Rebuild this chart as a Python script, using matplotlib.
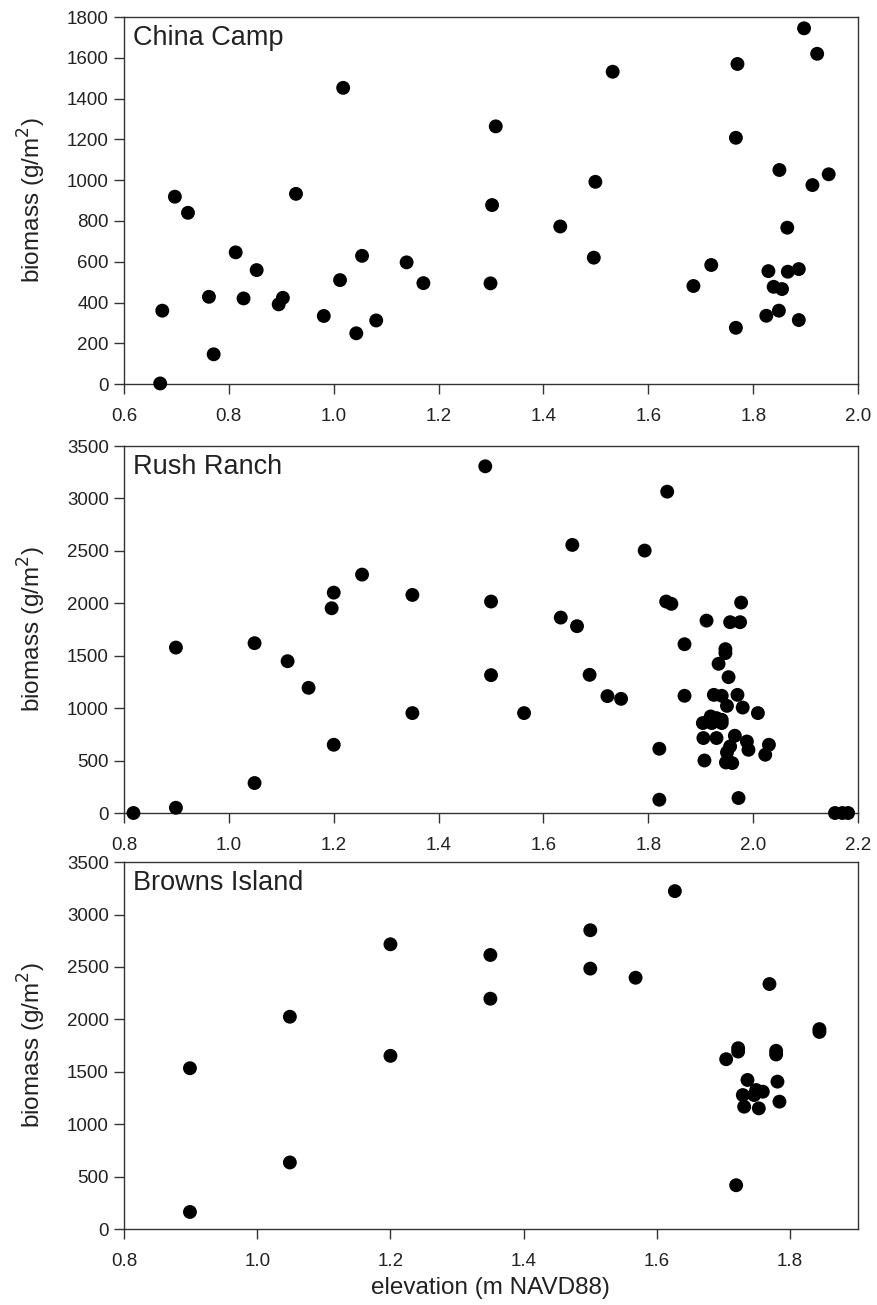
import numpy as np
import matplotlib
matplotlib.use("Agg")
import matplotlib.pyplot as plt

plt.rcParams['font.family'] = ['Liberation Sans', 'DejaVu Sans']

# ---- China Camp ----
cc_elev = [0.669, 0.673, 0.697, 0.722, 0.762, 0.771, 0.813, 0.828, 0.853, 0.895,
           0.903, 0.928, 0.981, 1.012, 1.018, 1.043, 1.054, 1.081, 1.139, 1.171,
           1.299, 1.302, 1.309, 1.432, 1.496, 1.499, 1.532, 1.686, 1.720, 1.767,
           1.767, 1.770, 1.825, 1.829, 1.839, 1.849, 1.850, 1.855, 1.866, 1.865,
           1.887, 1.887, 1.897, 1.913, 1.922, 1.944]
cc_biom = [3, 360, 919, 840, 428, 146, 646, 420, 559, 391,
           423, 933, 334, 510, 1453, 249, 629, 312, 597, 495,
           494, 878, 1264, 773, 620, 992, 1532, 481, 584, 276,
           1208, 1570, 335, 554, 477, 360, 1050, 466, 551, 767,
           564, 314, 1745, 976, 1620, 1029]

# ---- Rush Ranch ----
rr_elev = [0.818, 0.899, 0.899, 1.049, 1.049, 1.112, 1.152, 1.200, 1.196, 1.200,
           1.254, 1.350, 1.350, 1.489, 1.500, 1.500, 1.563, 1.633, 1.655, 1.664,
           1.688, 1.722, 1.748, 1.793, 1.821, 1.821, 1.836, 1.834, 1.844, 1.869,
           1.869, 1.977, 1.911, 1.956, 1.975, 1.947, 1.947, 1.934, 1.953, 1.925,
           1.940, 1.970, 1.950, 1.980, 2.009, 1.919, 1.930, 1.940, 1.904, 1.921,
           1.940, 1.905, 1.930, 1.965, 1.988, 1.956, 1.991, 2.030, 2.023, 1.950,
           1.907, 1.948, 1.960, 1.972, 2.156, 2.170, 2.181]
rr_biom = [0, 50, 1578, 286, 1620, 1448, 1194, 651, 1953, 2102,
           2274, 2080, 953, 3307, 2017, 1315, 953, 1864, 2557, 1782,
           1318, 1115, 1089, 2503, 613, 127, 3065, 2017, 1995, 1610,
           1118, 2007, 1835, 1820, 1820, 1563, 1525, 1423, 1296, 1127,
           1118, 1127, 1022, 1006, 953, 921, 905, 889, 858, 858,
           858, 715, 715, 737, 682, 635, 603, 651, 556, 578,
           501, 482, 476, 143, 0, 0, 0]

# ---- Browns Island ----
bi_elev = [0.899, 0.899, 1.049, 1.049, 1.200, 1.200, 1.350, 1.350, 1.500, 1.500,
           1.568, 1.627, 1.704, 1.722, 1.722, 1.719, 1.736, 1.729, 1.749, 1.759,
           1.746, 1.731, 1.753, 1.769, 1.779, 1.779, 1.781, 1.784, 1.844, 1.844]
bi_biom = [1534, 163, 2025, 635, 2716, 1652, 2614, 2197, 2850, 2484,
           2397, 3223, 1620, 1725, 1693, 418, 1422, 1278, 1326, 1310,
           1278, 1167, 1151, 2337, 1700, 1665, 1406, 1215, 1907, 1880]

panels = [
    ("China Camp", cc_elev, cc_biom, (0.6, 2.0), np.arange(0.6, 2.01, 0.2), (0, 1800), np.arange(0, 1801, 200)),
    ("Rush Ranch", rr_elev, rr_biom, (0.8, 2.2), np.arange(0.8, 2.21, 0.2), (0, 3500), np.arange(0, 3501, 500)),
    ("Browns Island", bi_elev, bi_biom, (0.8, 1.902), np.arange(0.8, 1.81, 0.2), (0, 3500), np.arange(0, 3501, 500)),
]

fig = plt.figure(figsize=(8.77, 13.05), dpi=100)
bottoms = [0.7057, 0.377, 0.0582]

for (name, x, y, xlim, xt, ylim, yt), b in zip(panels, bottoms):
    ax = fig.add_axes([0.1414, b, 0.837, 0.2812])
    ax.scatter(x, y, s=100, color='black', edgecolors='none', clip_on=False, zorder=3)
    ax.set_xlim(*xlim)
    ax.set_ylim(*ylim)
    ax.set_xticks(xt)
    ax.set_xticklabels([f"{v:.1f}" for v in xt])
    ax.set_yticks(yt)
    ax.tick_params(direction='out', length=7, width=1, colors='#333333',
                   labelsize=13.5, labelcolor='#222222')
    ax.tick_params(axis='y', pad=4)
    ax.tick_params(axis='x', pad=10)
    for sp in ax.spines.values():
        sp.set_color('#333333')
        sp.set_linewidth(1)
    ax.text(0.012, 0.978, name, transform=ax.transAxes, ha='left', va='top',
            fontsize=19.5, color='#222222')
    ax.set_ylabel("biomass (g/m$^2$)", fontsize=17.5, color='#222222')
    ax.yaxis.set_label_coords(-0.104, 0.5)

ax.set_xlabel("elevation (m NAVD88)", fontsize=17.5, color='#222222')
ax.xaxis.set_label_coords(0.4986, -0.13)

fig.savefig("out.png", dpi=100)
